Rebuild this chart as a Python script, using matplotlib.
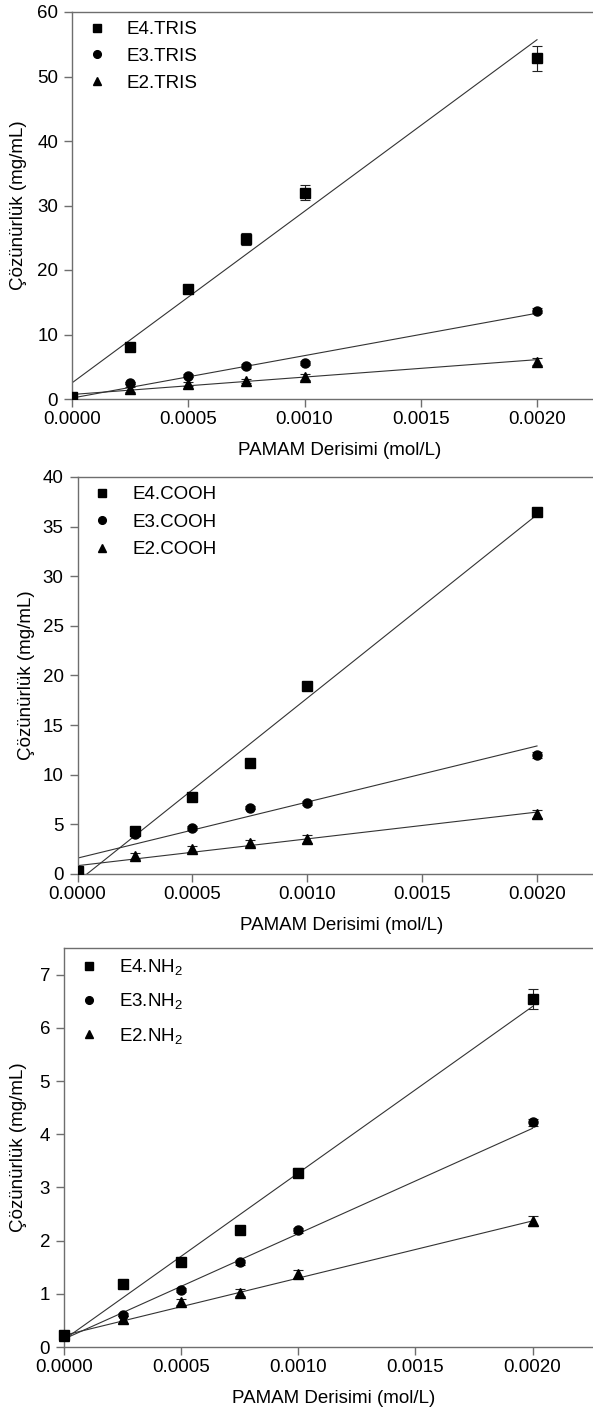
import matplotlib
matplotlib.use('Agg')
import matplotlib.pyplot as plt
import numpy as np

plt.rc('font', family=['Liberation Sans', 'DejaVu Sans'], size=13.5)
plt.rc('mathtext', default='regular')

W, H, DPI = 593, 1416, 100

# concentrations (mol/L)
conc = [0.0, 0.00025, 0.0005, 0.00075, 0.0010, 0.0020]

# TRIS terminated
tris_e4 = [0.3, 8.0, 17.0, 24.8, 32.0, 52.8]
tris_e4_err = [0.2, 0.3, 0.5, 0.9, 1.2, 2.0]
tris_e3 = [0.3, 2.5, 3.6, 5.1, 5.6, 13.7]
tris_e3_err = [0.1, 0.2, 0.2, 0.3, 0.3, 0.4]
tris_e2 = [0.2, 1.5, 2.3, 2.8, 3.4, 5.8]
tris_e2_err = [0.1, 0.4, 0.3, 0.3, 0.4, 0.5]
tris_fit = [(2.5, 26600.0), (0.15, 6575.0), (0.7, 2700.0)]  # (intercept, slope)

# COOH terminated
cooh_e4 = [0.3, 4.3, 7.8, 11.2, 18.9, 36.5]
cooh_e4_err = [0.1, 0.2, 0.2, 0.3, 0.3, 0.4]
cooh_e3 = [0.3, 4.0, 4.6, 6.7, 7.2, 12.0]
cooh_e3_err = [0.1, 0.2, 0.2, 0.2, 0.2, 0.3]
cooh_e2 = [0.3, 1.8, 2.5, 3.1, 3.5, 6.0]
cooh_e2_err = [0.1, 0.3, 0.3, 0.3, 0.4, 0.4]
cooh_fit = [(-0.76, 18480.0), (1.6, 5650.0), (0.84, 2700.0)]

# NH2 terminated
nh2_e4 = [0.22, 1.18, 1.60, 2.19, 3.28, 6.54]
nh2_e4_err = [0.02, 0.03, 0.05, 0.05, 0.08, 0.19]
nh2_e3 = [0.22, 0.61, 1.07, 1.59, 2.19, 4.22]
nh2_e3_err = [0.02, 0.03, 0.04, 0.04, 0.05, 0.06]
nh2_e2 = [0.20, 0.52, 0.85, 1.02, 1.37, 2.37]
nh2_e2_err = [0.02, 0.06, 0.06, 0.07, 0.07, 0.10]
nh2_fit = [(0.14, 3130.0), (0.15, 1980.0), (0.22, 1075.0)]

panels = [
    dict(series=[tris_e4, tris_e3, tris_e2],
         errs=[tris_e4_err, tris_e3_err, tris_e2_err],
         fits=tris_fit,
         labels=['E4.TRIS', 'E3.TRIS', 'E2.TRIS'],
         ylim=(0, 60), ystep=10, clip=True, lspace=0.5,
         px=(72, 537, 12, 399), ylab_x=27),
    dict(series=[cooh_e4, cooh_e3, cooh_e2],
         errs=[cooh_e4_err, cooh_e3_err, cooh_e2_err],
         fits=cooh_fit,
         labels=['E4.COOH', 'E3.COOH', 'E2.COOH'],
         ylim=(0, 40), ystep=5, clip=True, lspace=0.55,
         px=(77.5, 537, 477, 874), ylab_x=35),
    dict(series=[nh2_e4, nh2_e3, nh2_e2],
         errs=[nh2_e4_err, nh2_e3_err, nh2_e2_err],
         fits=nh2_fit,
         labels=['E4.NH$_2$', 'E3.NH$_2$', 'E2.NH$_2$'],
         ylim=(0, 7.5), ystep=1, clip=False, lspace=0.75,
         px=(64, 532.5, 948, 1347), ylab_x=27),
]
markers = ['s', 'o', '^']
xmax = 0.0023
spine_c = '#6e6e6e'

fig = plt.figure(figsize=(W / DPI, H / DPI), dpi=DPI)
for p in panels:
    left, x2, top, bottom = p['px']
    width = (x2 - left) / 0.002 * xmax
    ax = fig.add_axes([left / W, 1 - bottom / H, width / W, (bottom - top) / H])
    xfit = np.array([0.0, 0.002])
    handles = []
    for ys, es, (b, m), mk, lab in zip(p['series'], p['errs'], p['fits'],
                                       markers, p['labels']):
        ax.plot(xfit, b + m * xfit, color='#333333', lw=0.8, zorder=2)
        c = ax.errorbar(conc, ys, yerr=es, fmt=mk, color='black', ms=6.5,
                        ecolor='#222222', elinewidth=0.8, capsize=3.5,
                        capthick=0.8, zorder=3)
        if not p['clip']:
            for art in [c[0], *c[1], *c[2]]:
                art.set_clip_on(False)
        c[0].set_label(lab)
        handles.append(c[0])
    ax.set_xlim(0, xmax)
    ax.set_ylim(*p['ylim'])
    ax.set_xticks(np.arange(0, 0.00201, 0.0005))
    ax.xaxis.set_major_formatter(plt.FormatStrFormatter('%.4f'))
    ax.set_yticks(np.arange(p['ylim'][0], p['ylim'][1] + 1e-9, p['ystep']))
    ax.yaxis.set_major_formatter(plt.FuncFormatter(lambda v, _: '%g' % v))
    for s in ax.spines.values():
        s.set_color(spine_c)
        s.set_linewidth(1.0)
    ax.tick_params(direction='out', length=5.5, width=1.0, color=spine_c,
                   labelsize=13.5)
    ax.tick_params(axis='x', pad=3)
    ax.tick_params(axis='y', pad=4.5)
    ax.set_xlabel('PAMAM Derisimi (mol/L)', fontsize=13.5, labelpad=10)
    ax.set_ylabel('Çözünürlük (mg/mL)', fontsize=13.5)
    ax.yaxis.set_label_coords((p['ylab_x'] - left) / width, 0.5)
    ax.legend(handles=handles, loc='upper left', frameon=False,
              fontsize=13.5, handletextpad=0.78, borderaxespad=0.0,
              borderpad=0.5, labelspacing=p['lspace'], handlelength=1.65,
              markerscale=0.85, bbox_to_anchor=(0.0, 1.0))

fig.savefig('out.png', dpi=DPI)
